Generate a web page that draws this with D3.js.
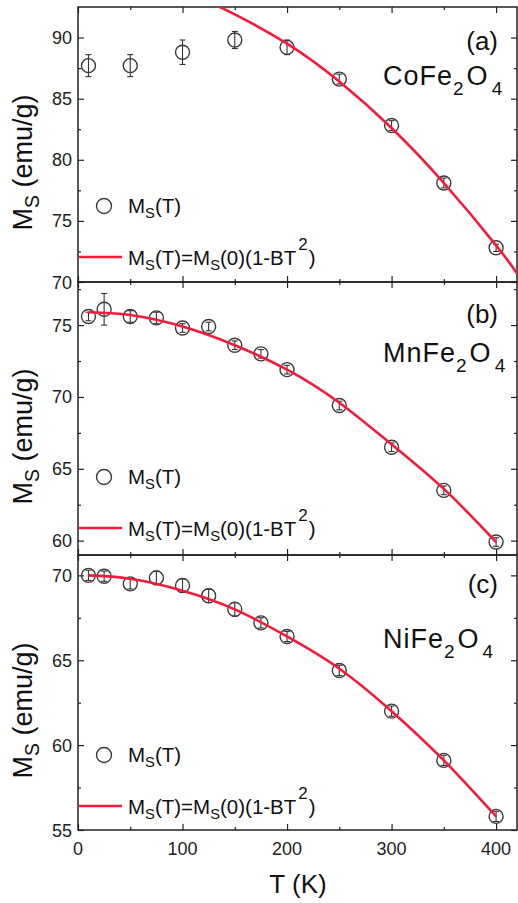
<!DOCTYPE html>
<html>
<head>
<meta charset="utf-8">
<script src="https://cdn.jsdelivr.net/npm/d3@7"></script>
<style>
	body { margin: 0; background: #fff; }
	svg { display: block; font-family: "Liberation Sans", Arial, sans-serif; }
	.frame { fill: none; stroke: #222; stroke-width: 1.5; }
	.tick line { stroke: #222; stroke-width: 1.2; }
	.ticklabel { font-size: 18px; fill: #222; }
	.pt { fill: none; stroke: #3a3a3a; stroke-width: 1.4; }
	.err { stroke: #333; stroke-width: 1.1; }
	.fit { fill: none; stroke: #f5193c; stroke-width: 2.6; }
</style>
</head>
<body>
<svg id="plot" width="518" height="903"></svg>
<script>
// temperatures (K)
const T_A = [10, 50, 100, 150, 200, 250, 300, 350, 400];
const T_BC = [10, 25, 50, 75, 100, 125, 150, 175, 200, 250, 300, 350, 400];

// (a) CoFe2O4
const MS_A = [87.7, 87.7, 88.8, 89.8, 89.2, 86.6, 82.8, 78.1, 72.8];
const ERR_A = [0.9, 0.9, 1.0, 0.7, 0.6, 0.4, 0.4, 0.4, 0.3];
const FIT_T_A = [130, 150, 200, 250, 300, 350, 400, 420];
const FIT_A = [92.7, 91.9, 89.5, 86.4, 82.6, 78.1, 73.0, 70.7];

// (b) MnFe2O4
const MS_B = [75.6, 76.1, 75.6, 75.5, 74.8, 74.9, 73.6, 73.0, 71.9, 69.4, 66.5, 63.5, 59.9];
const ERR_B = [0.3, 1.1, 0.4, 0.4, 0.3, 0.3, 0.3, 0.3, 0.3, 0.3, 0.3, 0.3, 0.3];
const FIT_T = [10, 50, 100, 150, 200, 250, 300, 350, 400];
const FIT_B = [75.9, 75.7, 74.9, 73.6, 71.9, 69.6, 66.7, 63.6, 59.9];

// (c) NiFe2O4
const MS_C = [70.0, 69.95, 69.5, 69.85, 69.4, 68.8, 68.0, 67.2, 66.4, 64.4, 62.0, 59.1, 55.8];
const ERR_C = [0.3, 0.3, 0.3, 0.4, 0.4, 0.4, 0.4, 0.3, 0.3, 0.3, 0.3, 0.3, 0.3];
const FIT_C = [70.0, 69.8, 69.1, 68.0, 66.4, 64.5, 62.0, 59.1, 55.8];

const X_TICKS = [0, 100, 200, 300, 400];
const X_MINOR = [50, 150, 250, 350];
const Y_TICKS_A = [70, 75, 80, 85, 90];
const Y_TICKS_B = [60, 65, 70, 75];
const Y_TICKS_C = [55, 60, 65, 70];

const LEFT = 78, RIGHT = 517;
const svg = d3.select('#plot');

const x = d3.scaleLinear().domain([0, 420]).range([LEFT, RIGHT]);

const panels = [
	{ id: 'a', label: '(a)', name: ['CoFe', '2', 'O', '4'], top: 7, bottom: 282, dom: [70, 92.5],
		T: T_A, ms: MS_A, err: ERR_A, fitT: FIT_T_A, fit: FIT_A, ticks: Y_TICKS_A,
		labelY: 50, nameY: 85, legY: 206 },
	{ id: 'b', label: '(b)', name: ['MnFe', '2', 'O', '4'], top: 282, bottom: 555, dom: [59, 78],
		T: T_BC, ms: MS_B, err: ERR_B, fitT: FIT_T, fit: FIT_B, ticks: Y_TICKS_B,
		labelY: 323, nameY: 362, legY: 477 },
	{ id: 'c', label: '(c)', name: ['NiFe', '2', 'O', '4'], top: 555, bottom: 830, dom: [55, 71.2],
		T: T_BC, ms: MS_C, err: ERR_C, fitT: FIT_T, fit: FIT_C, ticks: Y_TICKS_C,
		labelY: 593, nameY: 648, legY: 755 }
];

function msText(sel, size) {
	// writes "M" with subscript "S"
	sel.append('tspan').text('M');
	sel.append('tspan').text('S').attr('font-size', size * 0.72).attr('dy', size * 0.25);
}

panels.forEach(p => {
	const y = d3.scaleLinear().domain(p.dom).range([p.bottom, p.top]);
	const g = svg.append('g').attr('class', 'panel-' + p.id);

	g.append('clipPath').attr('id', 'clip-' + p.id)
		.append('rect').attr('x', LEFT).attr('y', p.top)
		.attr('width', RIGHT - LEFT).attr('height', p.bottom - p.top);

	// inward ticks on all four sides
	const minorY = [];
	for (let i = 0; i < p.ticks.length; i++) {
		const v = p.ticks[i] + 2.5;
		if (v < p.dom[1]) minorY.push(v);
	}
	if (p.ticks[0] - 2.5 > p.dom[0]) minorY.push(p.ticks[0] - 2.5);

	g.append('g').attr('class', 'tick').attr('transform', `translate(0,${p.bottom})`)
		.call(d3.axisTop(x).tickValues(X_TICKS).tickSize(6).tickFormat(''))
		.call(a => a.select('.domain').remove());
	g.append('g').attr('class', 'tick').attr('transform', `translate(0,${p.bottom})`)
		.call(d3.axisTop(x).tickValues(X_MINOR).tickSize(3).tickFormat(''))
		.call(a => a.select('.domain').remove());
	g.append('g').attr('class', 'tick').attr('transform', `translate(0,${p.top})`)
		.call(d3.axisBottom(x).tickValues(X_TICKS).tickSize(6).tickFormat(''))
		.call(a => a.select('.domain').remove());
	g.append('g').attr('class', 'tick').attr('transform', `translate(0,${p.top})`)
		.call(d3.axisBottom(x).tickValues(X_MINOR).tickSize(3).tickFormat(''))
		.call(a => a.select('.domain').remove());
	g.append('g').attr('class', 'tick').attr('transform', `translate(${LEFT},0)`)
		.call(d3.axisRight(y).tickValues(p.ticks).tickSize(6).tickFormat(''))
		.call(a => a.select('.domain').remove());
	g.append('g').attr('class', 'tick').attr('transform', `translate(${LEFT},0)`)
		.call(d3.axisRight(y).tickValues(minorY).tickSize(3).tickFormat(''))
		.call(a => a.select('.domain').remove());
	g.append('g').attr('class', 'tick').attr('transform', `translate(${RIGHT},0)`)
		.call(d3.axisLeft(y).tickValues(p.ticks).tickSize(6).tickFormat(''))
		.call(a => a.select('.domain').remove());
	g.append('g').attr('class', 'tick').attr('transform', `translate(${RIGHT},0)`)
		.call(d3.axisLeft(y).tickValues(minorY).tickSize(3).tickFormat(''))
		.call(a => a.select('.domain').remove());
	g.selectAll('.tick text').remove();

	g.append('rect').attr('class', 'frame')
		.attr('x', LEFT).attr('y', p.top)
		.attr('width', RIGHT - LEFT).attr('height', p.bottom - p.top);

	// y tick labels
	g.selectAll('text.yl').data(p.ticks).enter().append('text')
		.attr('class', 'ticklabel')
		.attr('x', LEFT - 6).attr('y', d => y(d) + 6.5)
		.attr('text-anchor', 'end')
		.text(d => d);

	// data points
	const pts = p.T.map((t, i) => ({ t: t, m: p.ms[i], e: p.err[i] }));
	const eb = g.append('g');
	pts.forEach(d => {
		eb.append('line').attr('class', 'err')
			.attr('x1', x(d.t)).attr('x2', x(d.t))
			.attr('y1', y(d.m - d.e)).attr('y2', y(d.m + d.e));
		[d.m - d.e, d.m + d.e].forEach(v => {
			eb.append('line').attr('class', 'err')
				.attr('x1', x(d.t) - 3).attr('x2', x(d.t) + 3)
				.attr('y1', y(v)).attr('y2', y(v));
		});
	});
	g.append('g').selectAll('circle').data(pts).enter().append('circle')
		.attr('class', 'pt')
		.attr('cx', d => x(d.t)).attr('cy', d => y(d.m)).attr('r', 7);

	// fit curve
	const line = d3.line().x(d => x(d[0])).y(d => y(d[1])).curve(d3.curveNatural);
	g.append('path').attr('class', 'fit')
		.attr('clip-path', `url(#clip-${p.id})`)
		.attr('d', line(p.fitT.map((t, i) => [t, p.fit[i]])));

	// panel label and compound
	g.append('text').attr('x', 498).attr('y', p.labelY)
		.attr('text-anchor', 'end').attr('font-size', 26).attr('fill', '#111')
		.text(p.label);
	const nm = g.append('text').attr('x', 383).attr('y', p.nameY)
		.attr('font-size', 27).attr('letter-spacing', 1).attr('fill', '#111');
	nm.append('tspan').text(p.name[0]);
	nm.append('tspan').text(p.name[1]).attr('font-size', 19).attr('dy', 10);
	nm.append('tspan').text(p.name[2]).attr('dy', -10).attr('dx', 2);
	nm.append('tspan').text(p.name[3]).attr('font-size', 19).attr('dy', 10).attr('dx', 3);

	// legend
	g.append('circle').attr('class', 'pt').attr('cx', 104).attr('cy', p.legY).attr('r', 7.5);
	const l1 = g.append('text').attr('x', 128).attr('y', p.legY + 7)
		.attr('font-size', 20.5).attr('fill', '#111');
	msText(l1, 20.5);
	l1.append('tspan').text('(T)').attr('dy', -5);

	const ly = p.legY + 51;
	g.append('line').attr('x1', LEFT + 1).attr('x2', 122).attr('y1', ly).attr('y2', ly)
		.attr('stroke', '#f5193c').attr('stroke-width', 2.6);
	const l2 = g.append('text').attr('x', 128).attr('y', ly + 8)
		.attr('font-size', 20.5).attr('fill', '#111');
	msText(l2, 20.5);
	l2.append('tspan').text('(T)=').attr('dy', -5);
	msText(l2, 20.5);
	l2.append('tspan').text('(0)(1-BT').attr('dy', -5);
	l2.append('tspan').text('2').attr('font-size', 17).attr('dy', -15).attr('dx', 2);
	l2.append('tspan').text(')').attr('dy', 15).attr('dx', 1);

	// y axis title
	const yt = g.append('text')
		.attr('transform', `translate(32,${(p.top + p.bottom) / 2 + 18}) rotate(-90)`)
		.attr('text-anchor', 'middle').attr('font-size', 27).attr('fill', '#111');
	msText(yt, 27);
	yt.append('tspan').text(' (emu/g)').attr('dy', -6.75);
});

// x tick labels and title
svg.append('g').selectAll('text').data(X_TICKS).enter().append('text')
	.attr('class', 'ticklabel')
	.attr('x', d => x(d)).attr('y', 855)
	.attr('text-anchor', 'middle')
	.text(d => d);

svg.append('text').attr('x', 298).attr('y', 893)
	.attr('text-anchor', 'middle').attr('font-size', 26).attr('fill', '#111')
	.text('T (K)');
</script>
</body>
</html>
